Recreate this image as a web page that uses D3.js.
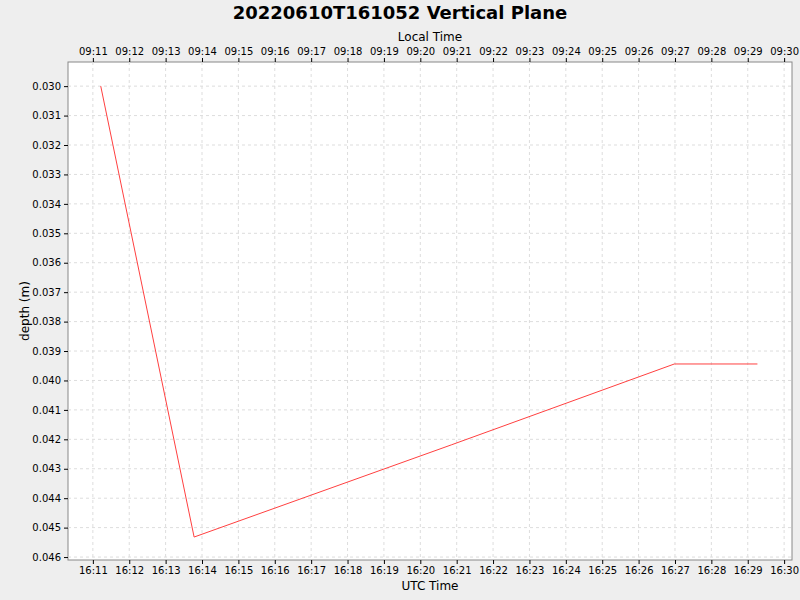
<!DOCTYPE html>
<html><head><meta charset="utf-8">
<script src="https://cdn.jsdelivr.net/npm/d3@7"></script>
<style>body{margin:0;background:#eeeeee;font-family:"DejaVu Sans",sans-serif}</style>
</head><body><svg id="c" width="800" height="600"></svg>
<script>
const times = ["16:11:13","16:13:47","16:20:51","16:26:59","16:29:16"];
const depths = [0.0300,0.04532,0.04219,0.03944,0.03944];
const yTicks = [0.030,0.031,0.032,0.033,0.034,0.035,0.036,0.037,0.038,0.039,0.040,0.041,0.042,0.043,0.044,0.045,0.046];
const utcOffsetHours = -7;

const parse = s => { const [h,m,sec]=s.split(":").map(Number); return new Date(Date.UTC(2022,5,10,h,m,sec)); };
const svg = d3.select("#c");
const L=68,R=792,T=62,B=560;
const x = d3.scaleUtc().domain([parse("16:10:19"),parse("16:30:13")]).range([L,R]);
const y = d3.scaleLinear().domain([0.02918,0.0461]).range([T,B]);
svg.append("rect").attr("x",L).attr("y",T).attr("width",R-L).attr("height",B-T).attr("fill","#fff").attr("stroke","#888");
const xt = d3.utcMinute.range(parse("16:11:00"),parse("16:30:30"));
const g = svg.append("g");
xt.forEach(t=>g.append("line").attr("x1",x(t)).attr("x2",x(t)).attr("y1",T).attr("y2",B).attr("stroke","#ddd").attr("stroke-dasharray","3,3"));
yTicks.forEach(v=>g.append("line").attr("x1",L).attr("x2",R).attr("y1",y(v)).attr("y2",y(v)).attr("stroke","#ddd").attr("stroke-dasharray","3,3"));
const fmt = d3.utcFormat("%H:%M");
svg.append("g").attr("transform",`translate(0,${B})`).call(d3.axisBottom(x).tickValues(xt).tickFormat(fmt).tickSize(4))
 .call(a=>{a.select(".domain").remove();a.selectAll("text").attr("font-size",10).attr("font-family","DejaVu Sans");});
svg.append("g").attr("transform",`translate(0,${T})`).call(d3.axisTop(x).tickValues(xt).tickFormat(d=>fmt(new Date(+d+utcOffsetHours*3600000))).tickSize(4))
 .call(a=>{a.select(".domain").remove();a.selectAll("text").attr("font-size",10).attr("font-family","DejaVu Sans");});
svg.append("g").attr("transform",`translate(${L},0)`).call(d3.axisLeft(y).tickValues(yTicks).tickFormat(d3.format(".3f")).tickSize(4))
 .call(a=>{a.select(".domain").remove();a.selectAll("text").attr("font-size",10).attr("font-family","DejaVu Sans");});
const data = times.map((t,i)=>[parse(t),depths[i]]);
svg.append("path").datum(data).attr("d",d3.line().x(d=>x(d[0])).y(d=>y(d[1]))).attr("fill","none").attr("stroke","#ff4040").attr("stroke-width",1);
svg.append("text").attr("x",400).attr("y",19).attr("text-anchor","middle").attr("font-size",18).attr("font-weight","bold").text("20220610T161052 Vertical Plane");
svg.append("text").attr("x",430).attr("y",41).attr("text-anchor","middle").attr("font-size",12).text("Local Time");
svg.append("text").attr("x",430).attr("y",590).attr("text-anchor","middle").attr("font-size",12).text("UTC Time");
svg.append("text").attr("transform","translate(29,311) rotate(-90)").attr("text-anchor","middle").attr("font-size",12).text("depth (m)");
</script></body></html>
